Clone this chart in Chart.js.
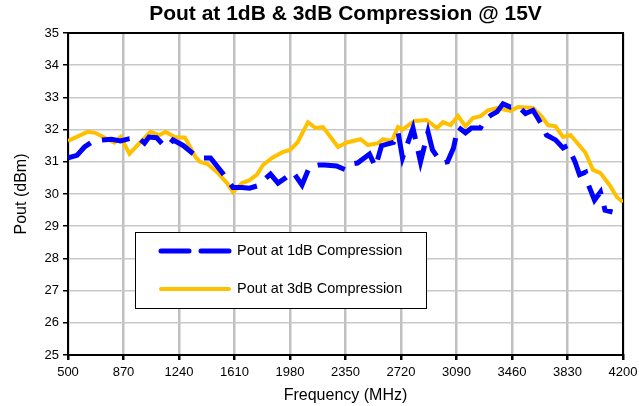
<!DOCTYPE html>
<html>
<head>
<meta charset="utf-8">
<script src="https://cdn.jsdelivr.net/npm/chart.js@4/dist/chart.umd.min.js"></script>
<style>
    html, body { margin: 0; padding: 0; background: #fff; }
    #wrap { width: 639px; height: 406px; }
</style>
</head>
<body>
<div id="wrap"><canvas id="myChart" width="639" height="406"></canvas></div>
<script>
// frequencies (MHz) and Pout (dBm)
const freq1dB = [500, 560, 610, 670, 730, 790, 850, 910, 970, 1010, 1040, 1090, 1130, 1160, 1200, 1270, 1330, 1380, 1450, 1530, 1600, 1660, 1710, 1760, 1850, 1900, 1950, 2000, 2060, 2110, 2170, 2210, 2290, 2350, 2390, 2430, 2510, 2550, 2590, 2670, 2700, 2730, 2800, 2850, 2900, 2930, 2990, 3030, 3070, 3100, 3150, 3190, 3250, 3280, 3320, 3360, 3400, 3450, 3500, 3550, 3600, 3660, 3690, 3750, 3800, 3830, 3880, 3910, 3950, 3970, 4010, 4050, 4080, 4130]
const pout1dB = [31.12, 31.2, 31.46, 31.65, 31.68, 31.7, 31.65, 31.72, 31.74, 31.58, 31.77, 31.75, 31.55, 31.46, 31.68, 31.5, 31.27, 31.12, 31.12, 30.65, 30.2, 30.2, 30.18, 30.25, 30.62, 30.34, 30.5, 30.68, 30.28, 30.84, 30.9, 30.9, 30.87, 30.75, 30.93, 30.96, 31.24, 30.84, 31.5, 31.6, 31.93, 31.12, 32.05, 31.0, 31.93, 31.37, 30.96, 31.0, 31.43, 32.08, 31.9, 32.05, 32.05, 32.3, 32.45, 32.55, 32.8, 32.7, 32.73, 32.5, 32.6, 32.14, 31.83, 31.68, 31.43, 31.5, 31.0, 30.6, 30.68, 30.28, 29.81, 30.06, 29.5, 29.44]

const freq3dB = [500, 630, 680, 810, 850, 910, 960, 1050, 1110, 1150, 1210, 1280, 1350, 1380, 1430, 1500, 1560, 1600, 1660, 1710, 1760, 1800, 1860, 1930, 1980, 2030, 2100, 2150, 2200, 2300, 2360, 2450, 2500, 2570, 2600, 2660, 2700, 2730, 2780, 2810, 2890, 2960, 3000, 3050, 3100, 3150, 3200, 3250, 3300, 3360, 3450, 3500, 3600, 3660, 3700, 3750, 3800, 3850, 3950, 4000, 4050, 4110, 4160, 4200]
const pout3dB = [31.65, 31.93, 31.9, 31.6, 31.77, 31.25, 31.5, 31.93, 31.83, 31.93, 31.77, 31.75, 31.15, 31.0, 30.93, 30.65, 30.34, 30.06, 30.34, 30.43, 30.6, 30.9, 31.12, 31.3, 31.37, 31.6, 32.23, 32.05, 32.08, 31.46, 31.6, 31.7, 31.52, 31.58, 31.7, 31.65, 32.08, 32.0, 32.17, 32.27, 32.3, 32.05, 32.23, 32.14, 32.42, 32.1, 32.36, 32.42, 32.6, 32.67, 32.58, 32.7, 32.67, 32.4, 32.14, 32.1, 31.77, 31.83, 31.28, 30.75, 30.65, 30.28, 29.9, 29.75]

const xTicks = [500, 870, 1240, 1610, 1980, 2350, 2720, 3090, 3460, 3830, 4200]
const yTicks = [25, 26, 27, 28, 29, 30, 31, 32, 33, 34, 35]

const seriesNames = ['Pout at 1dB Compression', 'Pout at 3dB Compression']
const seriesColors = ['#0000FF', '#FFC000']

const FONT = "'Liberation Sans', Arial, sans-serif"

const toPoints = (xs, ys) => xs.map((x, i) => ({ x: x, y: ys[i] }))

// black frame round the plot area
const frameBox = {
    id: 'frameBox',
    beforeDatasetsDraw(chart) {
        const { ctx, chartArea: a } = chart
        ctx.save()
        ctx.strokeStyle = '#000'
        ctx.lineWidth = 2
        ctx.strokeRect(a.left, a.top, a.right - a.left, a.bottom - a.top)
        ctx.restore()
    }
}

// boxed legend sitting inside the plot, like the excel one
const boxLegend = {
    id: 'boxLegend',
    afterDatasetsDraw(chart) {
        const { ctx, chartArea: a } = chart
        const bx = a.left + 67, by = a.top + 199, bw = 291, bh = 76
        ctx.save()
        ctx.fillStyle = '#fff'
        ctx.fillRect(bx, by, bw, bh)
        ctx.strokeStyle = '#000'
        ctx.lineWidth = 1
        ctx.strokeRect(bx + 0.5, by + 0.5, bw, bh)

        const rows = [by + 19, by + 57]
        chart.data.datasets.forEach((ds, i) => {
            ctx.beginPath()
            ctx.strokeStyle = ds.borderColor
            ctx.lineWidth = ds.borderWidth
            ctx.lineCap = 'round'
            ctx.setLineDash(ds.borderDash || [])
            ctx.moveTo(bx + 26, rows[i])
            ctx.lineTo(bx + 94, rows[i])
            ctx.stroke()
            ctx.setLineDash([])
            ctx.fillStyle = '#000'
            ctx.font = '14.5px ' + FONT
            ctx.textBaseline = 'middle'
            ctx.fillText(ds.label, bx + 102, rows[i])
        })
        ctx.restore()
    }
}

const ctx = document.getElementById('myChart').getContext('2d')

const config = {
    type: 'line',
    data: {
        datasets: [
            {
                label: seriesNames[0],
                data: toPoints(freq1dB, pout1dB),
                borderColor: seriesColors[0],
                backgroundColor: seriesColors[0],
                borderWidth: 5,
                borderDash: [28, 12],
                pointRadius: 0,
                tension: 0,
            },
            {
                label: seriesNames[1],
                data: toPoints(freq3dB, pout3dB),
                borderColor: seriesColors[1],
                backgroundColor: seriesColors[1],
                borderWidth: 4,
                pointRadius: 0,
                tension: 0,
            },
        ]
    },
    options: {
        responsive: false,
        animation: false,
        layout: { padding: { left: 0, right: 16, top: 0, bottom: 0 } },
        plugins: {
            legend: { display: false },
            tooltip: { enabled: false },
            title: {
                display: true,
                fullSize: false,
                text: 'Pout at 1dB & 3dB Compression @ 15V',
                color: '#000',
                font: { family: FONT, size: 21, weight: 'bold' },
                padding: { top: 2, bottom: 5.8 },
            },
        },
        scales: {
            x: {
                type: 'linear',
                min: 500,
                max: 4200,
                afterBuildTicks: (s) => { s.ticks = xTicks.map(v => ({ value: v })) },
                afterFit: (s) => {
                    s.height = 51
                    s.paddingLeft = 0
                    s.paddingRight = 0
                },
                ticks: {
                    color: '#000',
                    font: { family: FONT, size: 13 },
                    padding: 5,
                    maxRotation: 0,
                    autoSkip: false,
                    callback: (v) => String(v),
                },
                grid: {
                    color: '#c0c0c0',
                    lineWidth: 2.5,
                    tickColor: '#000',
                    tickLength: 5,
                },
                border: { display: true, color: '#000', width: 2 },
                title: {
                    display: true,
                    text: 'Frequency (MHz)',
                    color: '#000',
                    font: { family: FONT, size: 16 },
                    padding: { top: 0, bottom: 1 },
                },
            },
            y: {
                min: 25,
                max: 35,
                afterBuildTicks: (s) => { s.ticks = yTicks.map(v => ({ value: v })) },
                afterFit: (s) => { s.width = 68 },
                ticks: {
                    color: '#000',
                    font: { family: FONT, size: 13 },
                    padding: 4,
                },
                grid: {
                    color: '#c8c8c8',
                    lineWidth: 1.5,
                    tickColor: '#000',
                    tickLength: 5,
                },
                border: { display: true, color: '#000', width: 2 },
                title: {
                    display: true,
                    text: 'Pout (dBm)',
                    color: '#000',
                    font: { family: FONT, size: 16 },
                    padding: { top: 12, bottom: 0 },
                },
            },
        },
    },
    plugins: [frameBox, boxLegend],
}

const myChart = new Chart(ctx, config)
</script>
</body>
</html>
